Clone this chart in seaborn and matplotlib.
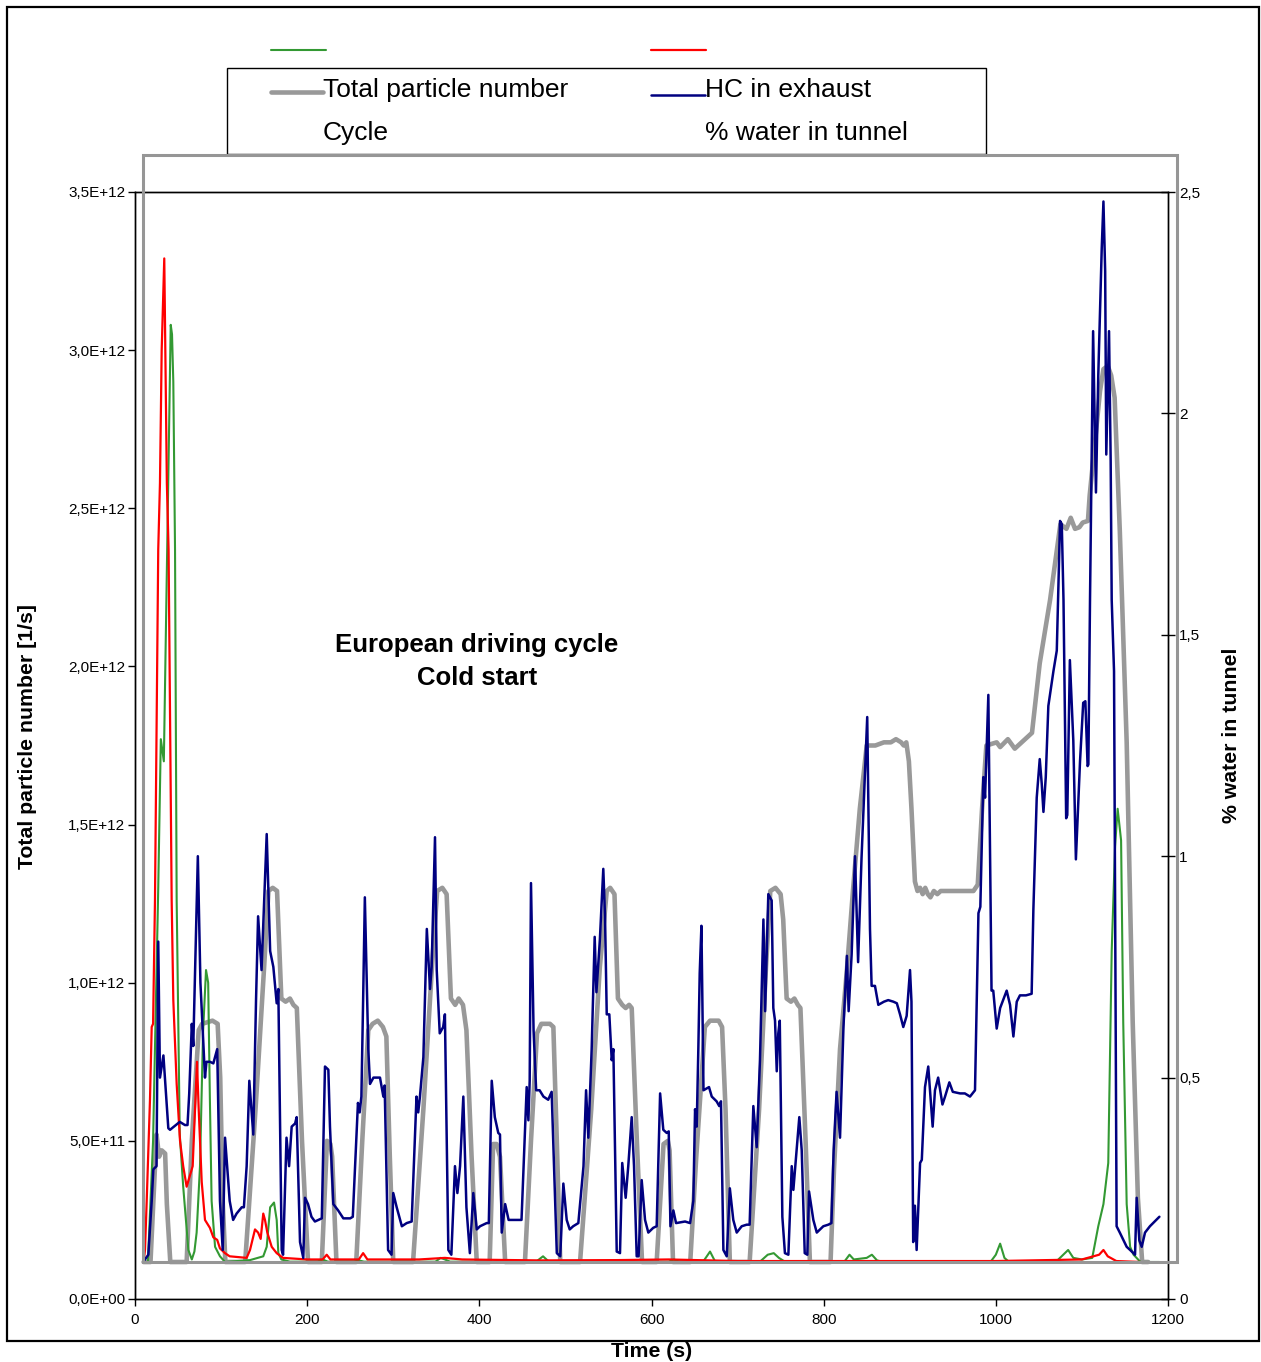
import numpy as np
import pandas as pd
import seaborn as sns
import matplotlib.pyplot as plt
from matplotlib.lines import Line2D
from matplotlib.patches import Rectangle
from matplotlib.ticker import FuncFormatter, MultipleLocator

# ---- data (time in s, values in units of 1E12 1/s on the left scale)
pn_t = [10, 18, 25, 28, 31, 35, 37, 41,
        60, 66, 74, 78, 90, 96, 99, 102, 105,
        128, 140, 150, 155, 160, 165, 170, 175, 180, 184, 188, 194, 201,
        217, 223, 227, 229, 234,
        257, 264, 271, 276, 282, 288, 292, 296, 300,
        323, 335, 345, 351, 357, 362, 367, 372, 376, 381, 385, 391, 397,
        412, 416, 420, 424, 430,
        453, 460, 467, 472, 482, 486, 490, 494,
        517, 530, 540, 548, 552, 557, 561, 566, 570, 574, 577, 583, 589,
        606, 614, 619, 621, 625,
        645, 652, 662, 668, 678, 682, 686, 691,
        714, 725, 733, 738, 744, 750, 753, 757, 762, 766, 770, 773, 779, 784,
        808, 812, 819, 827, 834, 842, 850, 860, 870, 878, 884, 890, 893, 896,
        899, 902, 906, 909, 912, 915, 918, 921, 924, 928, 932, 936, 945, 960,
        974, 979, 984, 989, 1001, 1005, 1014, 1022, 1030, 1042, 1051, 1063,
        1075, 1082, 1087, 1092, 1097, 1101, 1107, 1109, 1121, 1125, 1130, 1134,
        1138, 1144, 1152, 1159, 1165, 1170, 1177]
pn_v = [0.117, 0.117, 0.52, 0.45, 0.47, 0.46, 0.30, 0.117,
        0.117, 0.50, 0.85, 0.87, 0.88, 0.87, 0.70, 0.30, 0.117,
        0.117, 0.60, 1.05, 1.29, 1.30, 1.29, 0.95, 0.94, 0.95, 0.93, 0.92, 0.50, 0.117,
        0.117, 0.50, 0.49, 0.45, 0.117,
        0.117, 0.50, 0.85, 0.87, 0.88, 0.86, 0.83, 0.45, 0.117,
        0.117, 0.60, 1.05, 1.29, 1.30, 1.28, 0.95, 0.93, 0.95, 0.93, 0.85, 0.45, 0.117,
        0.117, 0.49, 0.49, 0.45, 0.117,
        0.117, 0.50, 0.84, 0.87, 0.87, 0.86, 0.50, 0.117,
        0.117, 0.60, 1.05, 1.29, 1.30, 1.28, 0.95, 0.93, 0.92, 0.93, 0.92, 0.50, 0.117,
        0.117, 0.49, 0.50, 0.47, 0.117,
        0.117, 0.45, 0.86, 0.88, 0.88, 0.86, 0.60, 0.117,
        0.117, 0.60, 1.05, 1.29, 1.30, 1.28, 1.20, 0.95, 0.94, 0.95, 0.93, 0.92, 0.50, 0.117,
        0.117, 0.41, 0.79, 1.04, 1.29, 1.55, 1.75, 1.75, 1.76, 1.76, 1.77, 1.76, 1.75, 1.76,
        1.70, 1.55, 1.32, 1.29, 1.30, 1.28, 1.30, 1.28, 1.27, 1.29, 1.28, 1.29, 1.29, 1.29,
        1.29, 1.31, 1.55, 1.75, 1.76, 1.745, 1.77, 1.74, 1.76, 1.79, 2.01, 2.21,
        2.45, 2.435, 2.47, 2.435, 2.44, 2.455, 2.46, 2.54, 2.87, 2.94, 2.95, 2.92,
        2.85, 2.43, 1.76, 0.875, 0.32, 0.117, 0.117]

hc_t = [9.7, 15.5, 19.4, 21.3, 25, 27, 29, 33, 35, 38.7, 40.7, 52, 58, 61, 63, 66, 67.7,
        73, 76, 81.3, 83, 87, 91, 95.5, 98.7, 101.9, 104.6, 110, 114, 118, 124, 126.5,
        129.7, 132.8, 137.4, 140.6, 143, 147, 153, 157, 160.7, 164.6, 166.5, 170.4, 172,
        176, 179, 182, 186, 187.8, 191.7, 195.5, 197.5, 201, 205, 209, 217, 220.7, 224.6,
        226.5, 230.4, 236, 242, 250, 253, 259, 261, 263, 265, 267, 271, 273, 277, 284.6,
        288.5, 290, 294, 298, 300, 304, 310, 315.6, 321.4, 327, 329, 331, 335, 339, 342.7,
        344.6, 348.5, 350.5, 354, 358, 360, 364, 367.5, 371.7, 374.5, 377.6, 381.4, 385,
        389, 393, 397, 400.8, 408.5, 411, 414.4, 418, 422, 424, 426, 430, 434, 439.5, 449,
        455, 457, 458.5, 460, 463, 466, 470, 474.5, 480, 484, 490, 494, 497.6, 501.5, 505,
        509, 515, 521, 524, 526.6, 530.5, 534, 536, 540, 544, 546, 548, 551, 553.8, 555.7,
        559.6, 563.4, 566, 570, 573, 577, 579.7, 582.8, 585, 588.6, 592.5, 596.3, 602, 606,
        610, 613.7, 617.7, 620, 622, 625.4, 628.5, 639, 644.8, 648.6, 650.6, 652.5, 654.4,
        656, 658, 660.4, 666.8, 670, 675.6, 678.7, 680.7, 683.5, 687.4, 691, 695, 699,
        704.8, 710.6, 714, 718.3, 722.2, 726, 730, 732, 735.7, 739.6, 741.5, 743.5, 745.5,
        747.3, 749, 752, 755, 759, 762.9, 764.8, 768.6, 771.7, 774.5, 778, 781, 783, 788,
        792, 799.6, 805.4, 809, 811.6, 815, 819, 823, 827, 829, 832.5, 836.4, 840, 844,
        850.6, 853.8, 855.7, 859.6, 863.5, 870, 875, 881, 885, 888.7, 892.5, 896.4, 900.3,
        902, 904, 906, 908, 912, 914, 917.7, 921.5, 926.6, 929.3, 933, 938, 941, 946, 950,
        958.4, 964, 970, 975.8, 979.8, 982, 985.5, 987.5, 991.3, 995, 997, 1001, 1005,
        1012.6, 1016.5, 1020.4, 1024.3, 1028, 1035, 1041.6, 1043.6, 1047.5, 1051, 1053.3,
        1055.3, 1058, 1061, 1066.9, 1070.8, 1074.6, 1076.6, 1078.6, 1081.7, 1083, 1086,
        1090, 1093, 1097.8, 1101.5, 1104, 1106.6, 1107.5, 1109.4, 1113, 1116.3, 1119, 1123,
        1125, 1127, 1128.3, 1131.5, 1133.4, 1134.6, 1137.3, 1140.3, 1144, 1152, 1156,
        1161.7, 1163.6, 1166.7, 1169.5, 1173.3, 1179, 1190]
hc_v = [0.118, 0.14, 0.31, 0.41, 0.42, 1.13, 0.70, 0.77, 0.69, 0.54, 0.535, 0.56, 0.55, 0.55, 0.65, 0.87, 0.80,
        1.40, 1.00, 0.70, 0.75, 0.75, 0.745, 0.79, 0.31, 0.155, 0.51, 0.31, 0.25, 0.27, 0.29, 0.29,
        0.42, 0.69, 0.52, 0.945, 1.21, 1.04, 1.47, 1.10, 1.05, 0.935, 0.98, 0.155, 0.14,
        0.51, 0.42, 0.545, 0.555, 0.575, 0.18, 0.13, 0.32, 0.30, 0.26, 0.245, 0.255, 0.735, 0.725,
        0.545, 0.30, 0.28, 0.255, 0.255, 0.26, 0.62, 0.59, 0.64, 0.945, 1.27, 0.79, 0.68, 0.70, 0.70,
        0.64, 0.675, 0.155, 0.14, 0.335, 0.29, 0.23, 0.24, 0.245, 0.64, 0.59, 0.64, 0.765, 1.17, 0.98,
        1.05, 1.46, 1.04, 0.84, 0.86, 0.90, 0.155, 0.14, 0.42, 0.335, 0.42, 0.64, 0.29,
        0.145, 0.335, 0.22, 0.23, 0.24, 0.24, 0.69, 0.575, 0.525, 0.52, 0.21, 0.30, 0.25, 0.25, 0.25,
        0.67, 0.565, 0.69, 1.315, 0.85, 0.66, 0.66, 0.64, 0.63, 0.655, 0.145, 0.135, 0.365, 0.25, 0.22,
        0.23, 0.24, 0.42, 0.66, 0.51, 0.79, 1.145, 0.97, 1.135, 1.36, 1.21, 0.90, 0.90, 0.755, 0.79,
        0.15, 0.145, 0.43, 0.32, 0.42, 0.575, 0.42, 0.135, 0.135, 0.376, 0.25, 0.21, 0.225, 0.23,
        0.65, 0.535, 0.525, 0.53, 0.23, 0.28, 0.24, 0.245, 0.24, 0.31, 0.60, 0.545, 0.79,
        1.03, 1.18, 0.66, 0.67, 0.64, 0.625, 0.61, 0.625, 0.155, 0.135, 0.35, 0.25, 0.21,
        0.23, 0.235, 0.235, 0.61, 0.48, 0.755, 1.20, 0.91, 1.28, 1.26, 0.92, 0.88, 0.72,
        0.84, 0.88, 0.26, 0.145, 0.14, 0.42, 0.345, 0.47, 0.575, 0.47, 0.145, 0.14, 0.34, 0.25,
        0.21, 0.23, 0.235, 0.24, 0.47, 0.655, 0.51, 0.86, 1.085, 0.91, 1.09, 1.40, 1.065, 1.395,
        1.84, 1.17, 0.99, 0.99, 0.93, 0.94, 0.945, 0.94, 0.935, 0.90, 0.86, 0.895, 1.04,
        0.94, 0.18, 0.295, 0.155, 0.43, 0.44, 0.67, 0.735, 0.545, 0.66, 0.70, 0.615, 0.64, 0.685, 0.655,
        0.65, 0.65, 0.64, 0.66, 1.22, 1.24, 1.65, 1.585, 1.91, 0.975, 0.975, 0.855, 0.92,
        0.975, 0.93, 0.83, 0.94, 0.96, 0.96, 0.965, 1.23, 1.585, 1.707, 1.63,
        1.54, 1.65, 1.875, 1.985, 2.05, 2.46, 2.45, 2.21, 1.52, 1.53, 2.02,
        1.765, 1.39, 1.70, 1.885, 1.89, 1.685, 1.69, 2.21, 3.06, 2.55, 2.92, 3.32,
        3.47, 3.25, 2.67, 3.06, 2.65, 2.21, 1.985, 0.23, 0.21, 0.165, 0.155,
        0.14, 0.32, 0.185, 0.165, 0.21, 0.23, 0.26]

cyc_t = [10, 15, 21, 27, 30, 33.5, 41.5, 43, 44.5, 46.5, 48.4, 52, 56, 62, 66, 69, 71.6,
         75.5, 79, 82.5, 85, 87, 89, 93, 98.7, 104.6, 133.6, 149, 153, 157, 161.5, 164.6,
         166.5, 170, 180, 212, 218, 224, 254, 260, 266, 349, 355, 360, 366, 466, 474, 480,
         486, 620, 626, 632, 660, 668, 674, 726, 735, 742, 748, 755, 824, 830, 835, 850,
         856, 862, 868, 994, 1000, 1005, 1010, 1015, 1070, 1084, 1090, 1100, 1112, 1119,
         1125, 1130.6, 1134.6, 1138.5, 1141.5, 1145.5, 1148, 1152, 1156, 1160, 1168, 1190]
cyc_v = [0.117, 0.117, 0.50, 1.30, 1.77, 1.70, 3.08, 3.05, 2.90, 2.37, 1.26, 0.52, 0.355, 0.155, 0.125, 0.15, 0.21,
         0.42, 0.84, 1.04, 1.00, 0.63, 0.31, 0.165, 0.135, 0.117, 0.123, 0.135, 0.165, 0.29, 0.305, 0.25,
         0.145, 0.125, 0.118, 0.118, 0.125, 0.118, 0.118, 0.122, 0.118, 0.118, 0.13, 0.125, 0.118, 0.118, 0.135, 0.12,
         0.118, 0.118, 0.125, 0.118, 0.118, 0.15, 0.118, 0.118, 0.14, 0.145, 0.13, 0.118, 0.118, 0.14, 0.125, 0.13,
         0.14, 0.122, 0.118, 0.118, 0.14, 0.175, 0.13, 0.118, 0.118, 0.155, 0.13, 0.125, 0.13, 0.23,
         0.30, 0.43, 1.10, 1.43, 1.55, 1.45, 0.875, 0.30, 0.165, 0.14, 0.117, 0.117]

wat_t = [10, 11.6, 13.6, 17.4, 19.4, 21, 23.2, 27, 29, 31, 34, 37, 39, 42.6, 44.5, 48.4,
         52.3, 56, 60, 67, 72, 74, 77.5, 81.3, 87, 91, 95.5, 98.7, 104.5, 110, 129.7,
         133.6, 139.4, 143, 146, 149, 151, 153.7, 158.8, 164.6, 172, 200, 218, 222.7, 227,
         260, 265, 270, 330, 360, 380, 470, 560, 620, 700, 900, 1000, 1100, 1120, 1125,
         1130, 1140, 1168]
wat_v = [0.117, 0.155, 0.31, 0.63, 0.86, 0.87, 1.26, 2.37, 2.58, 3.00, 3.29, 2.58, 2.37, 1.26, 0.945, 0.68,
         0.50, 0.42, 0.355, 0.42, 0.75, 0.60, 0.37, 0.25, 0.225, 0.195, 0.187, 0.16, 0.145, 0.135, 0.13,
         0.155, 0.22, 0.21, 0.19, 0.27, 0.25, 0.21, 0.165, 0.145, 0.13, 0.125, 0.125, 0.14, 0.125,
         0.125, 0.145, 0.125, 0.125, 0.13, 0.125, 0.122, 0.123, 0.125, 0.12, 0.12, 0.12, 0.125, 0.14, 0.155,
         0.135, 0.12, 0.117]

x_ticks = [0, 200, 400, 600, 800, 1000, 1200]
right_ticks = [0, 0.5, 1, 1.5, 2, 2.5]
right_labels = ["0", "0,5", "1", "1,5", "2", "2,5"]

E12 = 1e12
W, H = 1261, 1362

sns.set_style("white")
plt.rcParams['font.family'] = ['Liberation Sans', 'DejaVu Sans']
plt.rcParams.update({'text.color': 'black', 'axes.labelcolor': 'black',
                     'xtick.color': 'black', 'ytick.color': 'black'})

fig = plt.figure(figsize=(W / 100, H / 100), dpi=100)
ax = fig.add_axes([135 / W, 1 - 1299 / H, (1168 - 135) / W, (1299 - 192) / H])
ax.patch.set_alpha(0)

GRAY = "#999999"
NAVY = "#000080"
GREEN = "#339933"
RED = "#ff0000"

sns.lineplot(x=pn_t, y=np.array(pn_v) * E12, ax=ax, color=GRAY, linewidth=3.3,
             estimator=None, sort=False, legend=False, zorder=2)
sns.lineplot(x=cyc_t, y=np.array(cyc_v) * E12, ax=ax, color=GREEN, linewidth=1.5,
             estimator=None, sort=False, legend=False, zorder=3)
sns.lineplot(x=wat_t, y=np.array(wat_v) * E12, ax=ax, color=RED, linewidth=1.6,
             estimator=None, sort=False, legend=False, zorder=4)
sns.lineplot(x=hc_t, y=np.array(hc_v) * E12, ax=ax, color=NAVY, linewidth=1.8,
             estimator=None, sort=False, legend=False, zorder=5)

ax.set_xlim(0, 1200)
ax.set_ylim(0, 3.5 * E12)
ax.set_xticks(x_ticks)
ax.yaxis.set_major_locator(MultipleLocator(0.5 * E12))
ax.yaxis.set_major_formatter(FuncFormatter(lambda v, p: f"{v:.1E}".replace(".", ",")))
for s in ax.spines.values():
    s.set_color("black")
    s.set_linewidth(1.0)
ax.tick_params(axis="y", direction="out", length=5, width=1, pad=2, labelsize=11, left=True)
ax.tick_params(axis="x", direction="out", length=5, width=1, pad=5, labelsize=11, bottom=True)

ax.set_xlabel("Time (s)", fontsize=15.3, fontweight="bold", va="center")
ax.xaxis.set_label_coords(0.5005, -0.047)
ax.set_ylabel("Total particle number [1/s]", fontsize=15.3, fontweight="bold", va="center")
ax.yaxis.set_label_coords(-0.1045, 0.508)

ax2 = ax.twinx()
ax2.set_ylim(0, 2.5)
ax2.set_yticks(right_ticks)
ax2.set_yticklabels(right_labels)
ax2.tick_params(axis="y", direction="inout", length=10, width=1, pad=3, labelsize=11, right=True)
for s in ax2.spines.values():
    s.set_color("black")
    s.set_linewidth(1.0)
ax2.set_ylabel("% water in tunnel", fontsize=15.3, fontweight="bold", rotation=90, va="center")
ax2.yaxis.set_label_position("right")
ax2.yaxis.set_label_coords(1.052, 0.5095)

ax.text(0.3309, (1299 - 645) / 1107, "European driving cycle", transform=ax.transAxes,
        ha="center", va="center", fontsize=18.5, fontweight="bold")
ax.text(0.3309, (1299 - 678) / 1107, "Cold start", transform=ax.transAxes,
        ha="center", va="center", fontsize=18.5, fontweight="bold")


def fx(px):
    return px / W


def fy(py):
    return 1 - py / H


# gray plot-area frame and outer border
fig.add_artist(Rectangle((fx(143), fy(1262)), (1177 - 143) / W, (1262 - 155) / H,
                         transform=fig.transFigure, fill=False, ec="#969696", lw=2.2, zorder=3))
fig.add_artist(Rectangle((fx(7), fy(1341)), (1259 - 7) / W, (1341 - 7) / H,
                         transform=fig.transFigure, fill=False, ec="black", lw=1.6, zorder=3))

# legend box
fig.add_artist(Rectangle((fx(227), fy(154)), (986 - 227) / W, (154 - 68) / H,
                         transform=fig.transFigure, fc="white", ec="black", lw=1.0, zorder=2))
legend_items = [
    ("Total particle number", GRAY, 3.3, 271, 323, 92, 323, 90),
    ("HC in exhaust", NAVY, 1.8, 651, 705, 95, 705, 90),
    ("Cycle", GREEN, 1.5, 271, 326, 50, 323, 133),
    ("% water in tunnel", RED, 1.6, 651, 706, 50, 705, 133),
]
for label, col, lw, x0, x1, ly, tx, ty in legend_items:
    fig.add_artist(Line2D([fx(x0), fx(x1)], [fy(ly), fy(ly)], transform=fig.transFigure,
                          color=col, lw=lw, zorder=4))
    fig.text(fx(tx), fy(ty), label, ha="left", va="center", fontsize=19, zorder=5)

fig.savefig("out.png", dpi=100)
